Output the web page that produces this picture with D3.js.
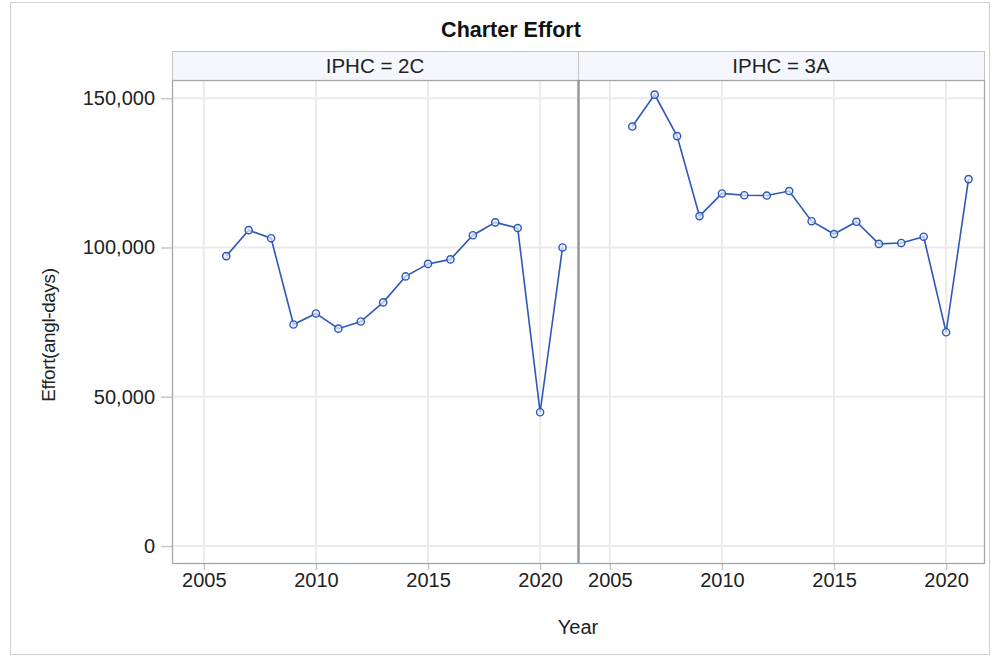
<!DOCTYPE html>
<html><head><meta charset="utf-8">
<script src="https://cdn.jsdelivr.net/npm/d3@7"></script>
<style>body{margin:0;background:#fff}svg{display:block;font-family:Arial,"Liberation Sans",sans-serif}</style>
</head><body><svg id="c" width="1000" height="663"></svg>
<script>
const years = [2006,2007,2008,2009,2010,2011,2012,2013,2014,2015,2016,2017,2018,2019,2020,2021];
const effort2C = [97100,105800,103100,74200,77900,72800,75200,81600,90300,94500,96000,104100,108400,106500,44800,100000];
const effort3A = [140500,151200,137300,110500,118100,117500,117400,118900,108800,104500,108600,101200,101500,103600,71600,122900];
const panels = ["IPHC = 2C","IPHC = 3A"];
const xTicks = [2005,2010,2015,2020];
const yTicks = [0,50000,100000,150000];
const title = "Charter Effort";
const xLabel = "Year";
const yLabel = "Effort(angl-days)";

const svg = d3.select("#c");
const lineColor = "#2d58b8";
const ff = "Arial,'Liberation Sans',sans-serif";
svg.append("rect").attr("x",10.5).attr("y",2.5).attr("width",979).attr("height",652)
  .attr("fill","#fff").attr("stroke","#d0d0d0");
svg.append("text").attr("x",511).attr("y",37).attr("text-anchor","middle")
  .attr("font-size",21.5).attr("font-weight","bold").attr("fill","#111").text(title);

const pTop=80, pBottom=563, hTop=51;
const panelX = [[172,578],[578,984]];
const y = d3.scaleLinear().domain([-5700,156100]).range([pBottom,pTop]);
const series = [effort2C, effort3A];
const fmt = d3.format(",");

panelX.forEach((px,i)=>{
  const x = d3.scaleLinear().domain([2003.58,2021.69]).range(px);
  const g = svg.append("g");
  // header
  g.append("rect").attr("x",px[0]+0.5).attr("y",hTop+0.5).attr("width",px[1]-px[0]).attr("height",pTop-hTop)
    .attr("fill","#f5f7fd").attr("stroke","#c4c4c4");
  g.append("text").attr("x",(px[0]+px[1])/2).attr("y",hTop+22).attr("text-anchor","middle")
    .attr("font-size",20.5).attr("fill","#222").text(panels[i]);
  // grid
  g.selectAll(".gx").data(xTicks).join("line").attr("x1",d=>x(d)).attr("x2",d=>x(d))
    .attr("y1",pTop).attr("y2",pBottom).attr("stroke","#ebebeb").attr("stroke-width",2);
  g.selectAll(".gy").data(yTicks).join("line").attr("x1",px[0]).attr("x2",px[1])
    .attr("y1",d=>y(d)).attr("y2",d=>y(d)).attr("stroke","#ebebeb").attr("stroke-width",2);
  // x axis
  const xa = g.append("g").attr("transform",`translate(0,${pBottom})`)
    .call(d3.axisBottom(x).tickValues(xTicks).tickFormat(d3.format("d")).tickSize(7).tickPadding(3));
  xa.select(".domain").remove();
  xa.selectAll("line").attr("stroke","#c8c8c8").attr("stroke-width",1.5);
  xa.selectAll("text").attr("font-size",20).attr("fill","#222").attr("font-family",ff);
  // line
  const data = years.map((yr,k)=>({yr,v:series[i][k]}));
  g.append("path").datum(data).attr("fill","none").attr("stroke",lineColor).attr("stroke-width",1.6)
    .attr("d",d3.line().x(d=>x(d.yr)).y(d=>y(d.v)));
  g.selectAll("circle").data(data).join("circle").attr("cx",d=>x(d.yr)).attr("cy",d=>y(d.v))
    .attr("r",3.6).attr("fill","#e6ecf8").attr("fill-opacity",0.7).attr("stroke",lineColor).attr("stroke-width",1.4);
  // border
  g.append("rect").attr("x",px[0]+0.5).attr("y",pTop+0.5).attr("width",px[1]-px[0]).attr("height",pBottom-pTop)
    .attr("fill","none").attr("stroke","#a3a7ab").attr("stroke-width",1.3);
});
// divider
svg.append("line").attr("x1",578.5).attr("x2",578.5).attr("y1",pTop).attr("y2",pBottom)
  .attr("stroke","#8f9498").attr("stroke-width",2.2);

// y axis
const ya = svg.append("g").attr("transform",`translate(172,0)`)
  .call(d3.axisLeft(y).tickValues(yTicks).tickFormat(fmt).tickSize(11).tickPadding(6));
ya.select(".domain").remove();
ya.selectAll("line").attr("stroke","#c8c8c8").attr("stroke-width",1.5);
ya.selectAll("text").attr("font-size",20).attr("fill","#222").attr("font-family",ff);

svg.append("text").attr("x",(panelX[0][0]+panelX[1][1])/2).attr("y",634).attr("text-anchor","middle")
  .attr("font-size",20).attr("fill","#222").text(xLabel);
svg.append("text").attr("transform","translate(55,335) rotate(-90)").attr("text-anchor","middle")
  .attr("font-size",19).attr("letter-spacing",-0.4).attr("fill","#222").text(yLabel);
</script></body></html>
